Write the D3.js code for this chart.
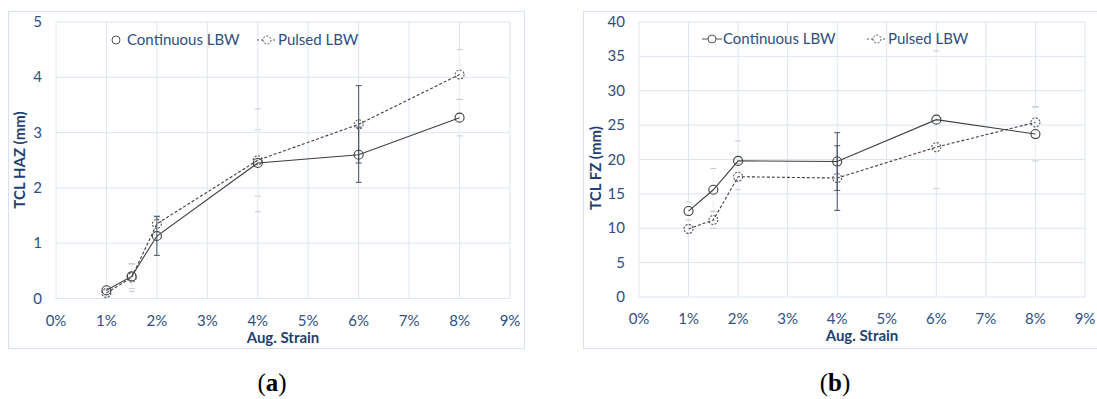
<!DOCTYPE html>
<html>
<head>
<meta charset="utf-8">
<script src="https://cdn.jsdelivr.net/npm/d3@7"></script>
<style>
  body { margin: 0; background: #fff; }
  svg { display: block; }
</style>
</head>
<body>
<div id="chart"></div>
<script>
// strain values (in %) shared by both panels
const strains = [1, 1.5, 2, 4, 6, 8];
const xTicks = [0, 1, 2, 3, 4, 5, 6, 7, 8, 9];

// (a) TCL HAZ
const hazContinuous = [0.15, 0.4, 1.13, 2.45, 2.6, 3.27];
const hazPulsed = [0.1, 0.38, 1.35, 2.5, 3.15, 4.05];
const hazContErr = [0, 0, 0.35, 0, 0.5, 0];          // visible bars
const hazPulsedErrDark = [0, 0, 0, 0, 0.7, 0];
const hazContErrFaint = [0, 0.22, 0, 0.6, 0, 0.33];
const hazPulsedErr = [0.05, 0.25, 0.15, 0.93, 0, 0.45];
const hazYTicks = [0, 1, 2, 3, 4, 5];

// (b) TCL FZ
const fzContinuous = [12.5, 15.6, 19.8, 19.7, 25.8, 23.7];
const fzPulsed = [9.9, 11.2, 17.5, 17.3, 21.8, 25.4];
const fzContErr = [0, 0, 0, 4.2, 0, 0];
const fzPulsedErrDark = [0, 0, 0, 4.7, 0, 0];
const fzContErrFaint = [1.3, 3.1, 2.9, 0, 10, 3.9];
const fzPulsedErr = [0.6, 1.2, 1.9, 0, 0, 2.3];
const fzYTicks = [0, 5, 10, 15, 20, 25, 30, 35, 40];

const svg = d3.select("#chart").append("svg")
    .attr("width", 1097)
    .attr("height", 399);

const tickColor = "#2f4f80";
const titleColor = "#1f3f70";
const gridColor = "#dce6f2";
const lineColor = "#3f3f3f";
const font = "Lato, 'Open Sans', sans-serif";

function drawPanel(p) {
    // outer chart box
    svg.append("rect")
        .attr("x", p.box[0]).attr("y", p.box[1])
        .attr("width", p.box[2]).attr("height", p.box[3])
        .attr("fill", "none").attr("stroke", "#d6e0ee");

    const x = d3.scaleLinear().domain([0, 9]).range([p.left, p.right]);
    const y = d3.scaleLinear().domain([0, p.yMax]).range([p.bottom, p.top]);

    const g = svg.append("g");

    // grid
    g.selectAll(".hgrid").data(p.yTicks).enter().append("line")
        .attr("x1", p.left).attr("x2", p.right)
        .attr("y1", d => y(d)).attr("y2", d => y(d))
        .attr("stroke", gridColor).attr("stroke-width", 1);
    g.selectAll(".vgrid").data(xTicks).enter().append("line")
        .attr("x1", d => x(d)).attr("x2", d => x(d))
        .attr("y1", p.top).attr("y2", p.bottom)
        .attr("stroke", gridColor).attr("stroke-width", 1);

    // tick labels
    g.selectAll(".ylab").data(p.yTicks).enter().append("text")
        .attr("x", p.left - 14).attr("y", d => y(d) + 5)
        .attr("text-anchor", "end")
        .attr("font-family", font).attr("font-size", 15)
        .attr("fill", tickColor)
        .text(d => d);
    g.selectAll(".xlab").data(xTicks).enter().append("text")
        .attr("x", d => x(d)).attr("y", p.bottom + 27)
        .attr("text-anchor", "middle")
        .attr("font-family", font).attr("font-size", 15)
        .attr("fill", tickColor)
        .text(d => d + "%");

    // axis titles
    g.append("text")
        .attr("x", (p.left + p.right) / 2).attr("y", p.bottom + 44)
        .attr("text-anchor", "middle")
        .attr("font-family", font).attr("font-size", 15).attr("font-weight", "bold")
        .attr("fill", titleColor)
        .text("Aug. Strain");
    g.append("text")
        .attr("transform", `translate(${p.yTitleX},${p.yTitleY}) rotate(-90)`)
        .attr("text-anchor", "middle")
        .attr("font-family", font).attr("font-size", 15).attr("font-weight", "bold")
        .attr("fill", titleColor)
        .text(p.yTitle);

    // error bars
    function errorBars(values, errs, color, capColor) {
        const d = strains.map((s, i) => ({ s: s, v: values[i], e: errs[i] })).filter(o => o.e > 0);
        const eg = g.append("g").attr("stroke-width", 1);
        eg.selectAll(".eb").data(d).enter().append("line")
            .attr("stroke", color)
            .attr("x1", o => x(o.s)).attr("x2", o => x(o.s))
            .attr("y1", o => y(o.v - o.e)).attr("y2", o => y(o.v + o.e));
        [-1, 1].forEach(sign => {
            eg.selectAll(".cap" + sign).data(d).enter().append("line")
                .attr("stroke", capColor)
                .attr("x1", o => x(o.s) - 3).attr("x2", o => x(o.s) + 3)
                .attr("y1", o => y(o.v + sign * o.e)).attr("y2", o => y(o.v + sign * o.e));
        });
    }
    errorBars(p.cont, p.contErrFaint, "#eef0f4", "#c4c8cf");
    errorBars(p.pulsed, p.pulsedErr, "#eef0f4", "#c4c8cf");
    errorBars(p.cont, p.contErr, "#44546a", "#44546a");
    errorBars(p.pulsed, p.pulsedErrDark, "#44546a", "#44546a");

    const line = d3.line().x((d, i) => x(strains[i])).y(d => y(d));

    g.append("path").datum(p.pulsed)
        .attr("d", line).attr("fill", "none")
        .attr("stroke", lineColor).attr("stroke-width", 1.1)
        .attr("stroke-dasharray", "3,2");
    g.append("path").datum(p.cont)
        .attr("d", line).attr("fill", "none")
        .attr("stroke", lineColor).attr("stroke-width", 1.1);

    g.selectAll(".mp").data(p.pulsed).enter().append("circle")
        .attr("cx", (d, i) => x(strains[i])).attr("cy", d => y(d))
        .attr("r", 4.5).attr("fill", "none")
        .attr("stroke", "#555").attr("stroke-width", 1.1)
        .attr("stroke-dasharray", "2,1.5");
    g.selectAll(".mc").data(p.cont).enter().append("circle")
        .attr("cx", (d, i) => x(strains[i])).attr("cy", d => y(d))
        .attr("r", 4.5).attr("fill", "none")
        .attr("stroke", lineColor).attr("stroke-width", 1.1);

    // legend
    const lg = g.append("g");
    p.legend.forEach(item => {
        if (item.line) {
            lg.append("line")
                .attr("x1", item.x - 10).attr("x2", item.x + 10)
                .attr("y1", p.legendY).attr("y2", p.legendY)
                .attr("stroke", "#555").attr("stroke-width", 1)
                .attr("stroke-dasharray", item.dashed ? "2,2" : null);
        }
        lg.append("circle")
            .attr("cx", item.x).attr("cy", p.legendY).attr("r", 4)
            .attr("fill", "#fff").attr("stroke", "#555").attr("stroke-width", 1)
            .attr("stroke-dasharray", item.dashed ? "2,1.5" : null);
        lg.append("text")
            .attr("x", item.x + 11).attr("y", p.legendY + 5)
            .attr("font-family", font).attr("font-size", 15)
            .attr("fill", tickColor)
            .text(item.label);
    });

    // caption
    svg.append("text")
        .attr("x", p.captionX).attr("y", 391)
        .attr("text-anchor", "middle")
        .attr("font-family", "'Liberation Serif', serif").attr("font-size", 25)
        .attr("fill", "#000")
        .html(`(<tspan font-weight="bold">${p.caption}</tspan>)`);
}

drawPanel({
    box: [8.5, 11.5, 516, 337],
    left: 56, right: 510, top: 22, bottom: 298.5,
    yMax: 5, yTicks: hazYTicks,
    yTitle: "TCL HAZ (mm)", yTitleX: 25, yTitleY: 160,
    cont: hazContinuous, pulsed: hazPulsed,
    contErr: hazContErr, contErrFaint: hazContErrFaint,
    pulsedErr: hazPulsedErr, pulsedErrDark: hazPulsedErrDark,
    legendY: 40,
    legend: [
        { x: 116, label: "Continuous LBW", line: false, dashed: false },
        { x: 267, label: "Pulsed LBW", line: true, dashed: true }
    ],
    captionX: 272, caption: "a"
});

drawPanel({
    box: [583.5, 11.5, 520, 337],
    left: 639, right: 1085, top: 22, bottom: 297,
    yMax: 40, yTicks: fzYTicks,
    yTitle: "TCL FZ (mm)", yTitleX: 601, yTitleY: 168,
    cont: fzContinuous, pulsed: fzPulsed,
    contErr: fzContErr, contErrFaint: fzContErrFaint,
    pulsedErr: fzPulsedErr, pulsedErrDark: fzPulsedErrDark,
    legendY: 39,
    legend: [
        { x: 712, label: "Continuous LBW", line: true, dashed: false },
        { x: 877, label: "Pulsed LBW", line: true, dashed: true }
    ],
    captionX: 835, caption: "b"
});
</script>
</body>
</html>
